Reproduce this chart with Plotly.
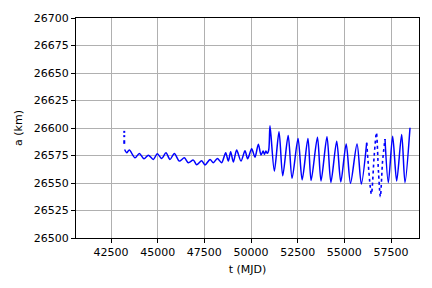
import plotly.graph_objects as go

# Initial isolated points (column of dots at the start)
t_init = [43210, 43210, 43210, 43210]
a_init = [26596.5, 26592.6, 26588.0, 26586.5]

# Oscillation turning points (t in MJD, a in km)
t_main = [43230, 43339, 43482, 43786, 44018, 44268, 44500, 44768, 44982, 45214,
          45446, 45661, 45893, 46161, 46429, 46643, 46911, 47089, 47357, 47536,
          47804, 47982, 48196, 48429, 48643, 48786, 48911, 49054, 49232, 49464,
          49679, 49821, 50036, 50214, 50393, 50536, 50650, 50720, 50800, 50870,
          50950, 51018, 51250, 51500, 51700, 51990, 52200, 52520, 52740, 53050,
          53220, 53560, 53750, 54070, 54280, 54591, 54810, 55100, 55330, 55680,
          55910, 56197]
a_main = [26580.5, 26577.5, 26579.9, 26572.9, 26576.9, 26572.0, 26575.3, 26571.4, 26576.6, 26572.3,
          26577.5, 26571.4, 26576.9, 26569.9, 26572.9, 26568.4, 26570.8, 26566.6, 26570.2, 26566.3,
          26571.4, 26568.4, 26572.3, 26568.4, 26577.5, 26569.9, 26578.4, 26569.0, 26579.9, 26569.9,
          26579.3, 26572.0, 26581.1, 26573.5, 26585.3, 26575.5, 26579.0, 26576.0, 26579.0, 26577.0,
          26580.0, 26602.0, 26560.8, 26596.5, 26556.5, 26593.2, 26554.3, 26590.5, 26552.8, 26590.5,
          26552.3, 26591.5, 26551.8, 26592.0, 26550.5, 26588.0, 26551.0, 26585.5, 26549.8, 26585.5,
          26549.0, 26586.6]

# Scattered (dotted) stretch
t_mixed = [56197, 56450, 56600, 56720, 56830, 56930, 57050, 57178]
a_mixed = [26586.6, 26540.0, 26575.0, 26595.6, 26560.0, 26537.5, 26570.0, 26590.0]

# Final stretch
t_late = [57178, 57357, 57589, 57804, 58071, 58250, 58518]
a_late = [26590.0, 26550.3, 26592.6, 26551.8, 26594.1, 26550.3, 26600.2]

x_ticks = [42500, 45000, 47500, 50000, 52500, 55000, 57500]
y_ticks = [26500, 26525, 26550, 26575, 26600, 26625, 26650, 26675, 26700]

blue = "#0000ff"
fig = go.Figure()
fig.add_trace(go.Scatter(x=t_init, y=a_init, mode="markers",
                         marker=dict(color=blue, size=2, symbol="square"), showlegend=False))
fig.add_trace(go.Scatter(x=t_main, y=a_main, mode="lines",
                         line=dict(color=blue, width=1.5, shape="spline", smoothing=0.8),
                         showlegend=False))
fig.add_trace(go.Scatter(x=t_mixed, y=a_mixed, mode="lines",
                         line=dict(color=blue, width=1.6, dash="dot", shape="spline", smoothing=0.8),
                         showlegend=False))
fig.add_trace(go.Scatter(x=t_late, y=a_late, mode="lines",
                         line=dict(color=blue, width=1.5, shape="spline", smoothing=0.8),
                         showlegend=False))

axis_common = dict(showline=True, mirror=True, linecolor="black", linewidth=1,
                   ticks="outside", ticklen=4, tickcolor="black", tickwidth=1,
                   showgrid=True, gridcolor="#b0b0b0", gridwidth=0.8, zeroline=False,
                   tickfont=dict(family="DejaVu Sans", size=11, color="black"))

fig.update_layout(
    width=432, height=288,
    margin=dict(l=76, r=13, t=18, b=50),
    paper_bgcolor="white", plot_bgcolor="white",
    font=dict(family="DejaVu Sans", size=11, color="black"),
    hovermode=False,
    xaxis=dict(range=[40625, 59000], tickvals=x_ticks, tickformat="d",
               title=dict(text="t (MJD)", standoff=7,
                          font=dict(family="DejaVu Sans", size=11, color="black")),
               **axis_common),
    yaxis=dict(range=[26500, 26700], tickvals=y_ticks, tickformat="d",
               title=dict(text="a (km)", standoff=8,
                          font=dict(family="DejaVu Sans", size=11, color="black")),
               **axis_common),
)

fig.write_html("out.html", config={"displayModeBar": False},
               post_script="document.body.style.margin='0';")
